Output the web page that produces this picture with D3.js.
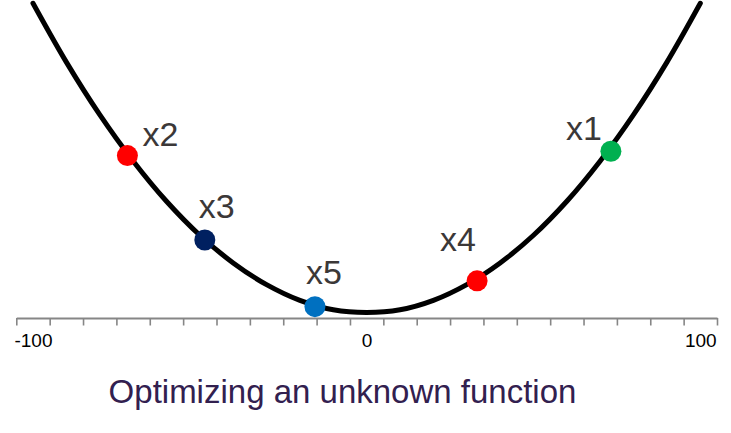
<!DOCTYPE html>
<html>
<head>
<meta charset="utf-8">
<script src="https://cdn.jsdelivr.net/npm/d3@7"></script>
<style>
  body { margin: 0; background: #fff; }
  svg { display: block; font-family: "Liberation Sans", Arial, sans-serif; }
</style>
</head>
<body>
<svg id="chart"></svg>
<script>
// curve samples (x, f(x))
const curveX = [-100, -90, -80, -70, -60, -50, -40, -30, -20, -10, 0, 10, 20, 30, 40, 50, 60, 70, 80, 90, 100];
const curveY = [10000, 8130, 6460, 4990, 3710, 2630, 1750, 1060, 560, 260, 175, 260, 560, 1060, 1750, 2630, 3710, 4990, 6460, 8130, 10000];

// sampled points
const pointNames = ["x1", "x2", "x3", "x4", "x5"];
const pointX = [73.2, -71.7, -48.5, 33.1, -15.5];
const pointY = [5300, 5160, 2480, 1180, 360];
const pointColors = ["#00b050", "#ff0000", "#002060", "#ff0000", "#0070c0"];

const tickValues = d3.range(-105, 106, 10);
const labelValues = [-100, 0, 100];
const title = "Optimizing an unknown function";

const width = 731, height = 433;

const svg = d3.select("#chart")
  .attr("width", width)
  .attr("height", height);

svg.append("rect").attr("width", width).attr("height", height).attr("fill", "#fff");

// scales
const x = d3.scaleLinear().domain([-105, 105]).range([16.3, 717]);
const y = d3.scaleLinear().domain([0, 10000]).range([318, 3.3]);

// axis: tick marks between categories
const axisG = svg.append("g").attr("transform", `translate(0,${y(0)})`);
axisG.call(d3.axisBottom(x).tickValues(tickValues).tickSize(7.5).tickFormat("").tickSizeOuter(0));
axisG.select(".domain").attr("stroke", "#868686").attr("stroke-width", 2.2);
axisG.selectAll(".tick line").attr("stroke", "#868686").attr("stroke-width", 1.6);

// axis labels
const labelG = svg.append("g").attr("transform", `translate(0,${y(0)})`);
labelG.call(d3.axisBottom(x).tickValues(labelValues).tickSize(0).tickPadding(16).tickFormat((d) => String(d)));
labelG.select(".domain").remove();
labelG.selectAll(".tick text")
  .attr("font-size", 19)
  .attr("font-family", "Liberation Sans, Arial, sans-serif")
  .attr("fill", "#000");

// the function curve
const curveData = curveX.map((d, i) => ({ x: d, y: curveY[i] }));
const line = d3.line()
  .x((d) => x(d.x))
  .y((d) => y(d.y))
  .curve(d3.curveCatmullRom.alpha(0.5));

svg.append("path")
  .datum(curveData)
  .attr("d", line)
  .attr("fill", "none")
  .attr("stroke", "#000")
  .attr("stroke-width", 5)
  .attr("stroke-linecap", "round");

// points
const points = pointNames.map((n, i) => ({ name: n, x: pointX[i], y: pointY[i], color: pointColors[i] }));

svg.selectAll(".pt")
  .data(points)
  .enter()
  .append("circle")
  .attr("class", "pt")
  .attr("cx", (d) => x(d.x))
  .attr("cy", (d) => y(d.y))
  .attr("r", 10.5)
  .attr("fill", (d) => d.color);

// point labels: x1 sits to the left, the others up-right
const labelOffset = {
  x1: [-45, -11],
  x2: [15, -10],
  x3: [-6, -22],
  x4: [-37, -30],
  x5: [-9, -23]
};

svg.selectAll(".pt-label")
  .data(points)
  .enter()
  .append("text")
  .attr("class", "pt-label")
  .attr("x", (d) => x(d.x) + labelOffset[d.name][0])
  .attr("y", (d) => y(d.y) + labelOffset[d.name][1])
  .attr("font-size", 34)
  .attr("fill", "#3b3838")
  .text((d) => d.name);

// title
svg.append("text")
  .attr("x", 342.5)
  .attr("y", 403)
  .attr("text-anchor", "middle")
  .attr("font-size", 33)
  .attr("fill", "#32204f")
  .text(title);
</script>
</body>
</html>
